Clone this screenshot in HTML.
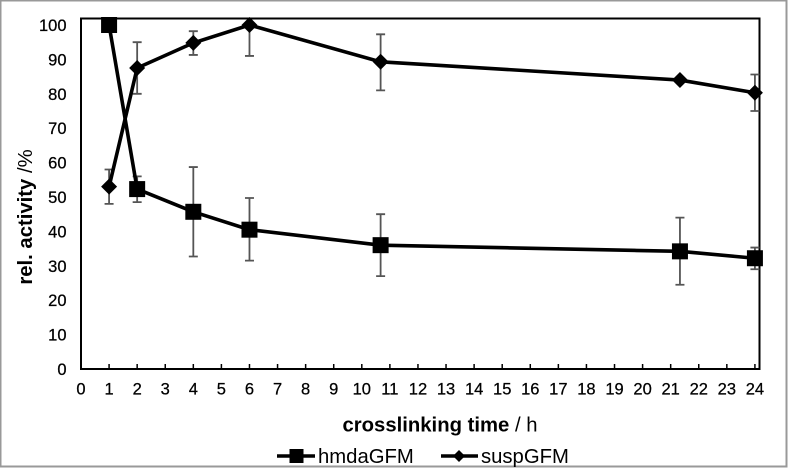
<!DOCTYPE html>
<html>
<head>
<meta charset="utf-8">
<style>
html,body{margin:0;padding:0;background:#fff;width:788px;height:468px;overflow:hidden}
svg{display:block;font-family:"Liberation Sans",sans-serif;fill:#000;filter:blur(0.3px)}
</style>
</head>
<body>
<svg id="chart" width="788" height="468" viewBox="0 0 788 468" xmlns="http://www.w3.org/2000/svg">
<rect x="0.5" y="0.5" width="786" height="466" fill="#fff" stroke="#999" stroke-width="2"/>
<g id="plot"></g>
<text x="440" y="431.5" text-anchor="middle" font-size="20.3"><tspan font-weight="bold">crosslinking time</tspan> / h</text>
<text transform="translate(32,217) rotate(-90)" text-anchor="middle" font-size="20.3"><tspan font-weight="bold">rel. activity</tspan> /%</text>
<g>
<g>
<line x1="277" y1="456" x2="315" y2="456" stroke="#000" stroke-width="3.4"/>
<rect x="289.5" y="449" width="14" height="14" fill="#000"/>
<text x="318" y="463" font-size="20.3">hmdaGFM</text>
</g>
<g>
<line x1="441" y1="456" x2="478" y2="456" stroke="#000" stroke-width="3.4"/>
<polygon points="459,450 465,456 459,462 453,456" fill="#000"/>
<text x="481" y="463" font-size="20.3">suspGFM</text>
</g>
</g>
</svg>
<script>
const times = [1, 2, 4, 6, 10.67, 21.33, 24];
const hmdaValues = [100, 52.3, 45.7, 40.5, 36, 34.2, 32.2];
const hmdaLow = [100, 48.5, 32.7, 31.5, 27, 24.5, 29];
const hmdaHigh = [100, 56, 58.7, 49.7, 45, 44, 35.3];
const suspValues = [53, 87.5, 94.8, 100, 89.3, 84, 80.3];
const suspLow = [48, 80, 91.3, 91, 81, 84, 75];
const suspHigh = [58, 95, 98.2, 100, 97.3, 84, 85.6];
const xTicks = [0,1,2,3,4,5,6,7,8,9,10,11,12,13,14,15,16,17,18,19,20,21,22,23,24];
const yTicks = [0,10,20,30,40,50,60,70,80,90,100];

const NS = 'http://www.w3.org/2000/svg';
const plot = document.getElementById('plot');
const xScale = v => 81 + v * 28.08;
const yScale = v => 369 - v * 3.44;
const LEFT = 81, RIGHT = 759.5, TOP = 18.5, BOTTOM = 369;

function make(tag, attrs, parent) {
  const el = document.createElementNS(NS, tag);
  for (const k in attrs) el.setAttribute(k, attrs[k]);
  (parent || plot).appendChild(el);
  return el;
}

// Axes box
const box = make('rect', {x: LEFT, y: TOP, width: RIGHT - LEFT, height: BOTTOM - TOP, fill: 'none', stroke: '#000', 'stroke-width': 2});



// X ticks and labels
xTicks.forEach(t => {
  const tick = make('line', {x1: xScale(t), x2: xScale(t), y1: BOTTOM, y2: BOTTOM - 5, stroke: '#000', 'stroke-width': 1.5});
  
  
  const label = make('text', {x: xScale(t), y: 394.5, 'text-anchor': 'middle', 'font-size': 16.5, stroke: '#000', 'stroke-width': 0.25});
  
  
  label.textContent = t;
});

// Y labels
yTicks.forEach(t => {
  const label = make('text', {x: 66.5, y: yScale(t) + 6, 'text-anchor': 'end', 'font-size': 16.5, stroke: '#000', 'stroke-width': 0.25});
  
  
  label.textContent = t;
});

function drawSeries(name, values, low, high, marker) {
  const group = make('g', {});
  
  

  times.forEach((t, i) => {
    if (low[i] === high[i]) return;
    const x = xScale(t);
    const d = 'M' + x + ' ' + yScale(low[i]) + 'V' + yScale(high[i]) +
      'M' + (x - 4.5) + ' ' + yScale(low[i]) + 'H' + (x + 4.5) +
      'M' + (x - 4.5) + ' ' + yScale(high[i]) + 'H' + (x + 4.5);
    const err = make('path', {d: d, stroke: '#555', 'stroke-width': 1.8, fill: 'none'}, group);
    
    
  });

  const pts = times.map((t, i) => xScale(t) + ',' + yScale(values[i])).join(' ');
  const line = make('polyline', {points: pts, fill: 'none', stroke: '#000', 'stroke-width': 3.6}, group);
  
  

  times.forEach((t, i) => {
    const x = xScale(t), y = yScale(values[i]);
    let m;
    if (marker === 'square') {
      m = make('rect', {x: x - 8, y: y - 8, width: 16, height: 16, fill: '#000'}, group);
    } else {
      m = make('polygon', {points: x + ',' + (y - 8) + ' ' + (x + 8) + ',' + y + ' ' + x + ',' + (y + 8) + ' ' + (x - 8) + ',' + y, fill: '#000'}, group);
    }
    
    
  });
}

drawSeries('suspgfm', suspValues, suspLow, suspHigh, 'diamond');
drawSeries('hmdagfm', hmdaValues, hmdaLow, hmdaHigh, 'square');
</script>
</body>
</html>
